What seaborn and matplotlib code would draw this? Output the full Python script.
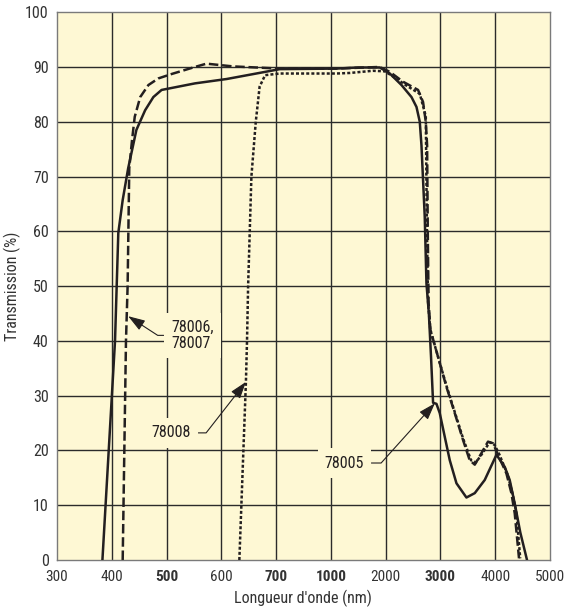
import numpy as np
import matplotlib
matplotlib.use('Agg')
import matplotlib.pyplot as plt
import seaborn as sns

# axe des x non linéaire : graduations équidistantes
x_ticks = [300, 400, 500, 600, 700, 1000, 2000, 3000, 4000, 5000]
y_ticks = [0, 10, 20, 30, 40, 50, 60, 70, 80, 90, 100]
bold_ticks = [500, 700, 1000, 3000]

# 78005 (trait plein)
wl_78005 = [383, 406, 412, 420, 430, 445, 461, 476, 491, 552, 610, 721, 1104,
            1500, 1894, 2077, 2290, 2473, 2564, 2624, 2655, 2715, 2746, 2790,
            2830, 2867, 2929, 2989, 3080, 3172, 3294, 3476, 3628, 3810, 4024,
            4175, 4266, 4358, 4460, 4582]
tr_78005 = [0, 40, 59.7, 65.7, 71.5, 78.5, 82.1, 84.5, 85.8, 87, 87.8, 89.6, 89.7,
            89.9, 89.9, 88.8, 86.7, 84.5, 82.7, 80, 75.7, 62.6, 50.5, 45,
            37, 28.7, 28.5, 26.8, 22.5, 18.2, 14, 11.4, 12.2, 14.6, 19.2,
            17, 14.6, 10.3, 5, 0]

# 78006, 78007 (tirets)
wl_78006 = [420, 426, 429, 432, 437, 442, 452, 467, 485, 509, 552, 573, 621, 721,
            1104, 1894, 2077, 2319, 2593, 2684, 2734, 2758, 2770, 2785, 2819,
            3111, 3263, 3414, 3536, 3628, 3750, 3870, 3962, 4053, 4206, 4297,
            4358, 4436]
tr_78006 = [0, 40, 50, 71.5, 76.6, 80.9, 84.5, 86.7, 87.9, 88.7, 90, 90.6, 90.1, 89.7,
            89.7, 90, 89.1, 87.3, 85.8, 83.6, 80, 75.7, 60, 47, 42,
            31.6, 26.8, 21.9, 18.2, 17.4, 19.5, 21.6, 21.3, 19.2, 15.8, 12.2,
            8.5, 0.3]

# 78008 (pointillés)
wl_78008 = [633, 645, 647, 649, 655, 663, 670, 680, 721, 1104, 1347, 1766, 1985,
            2131, 2381, 2624, 2734, 2755, 2776, 2816, 3111, 3263, 3414, 3560,
            3650, 3770, 3900, 3990, 4080, 4230, 4320, 4390, 4458]
tr_78008 = [0, 32.5, 40, 50, 70, 80, 86.4, 88.5, 88.8, 88.8, 88.9, 89.3, 89.2,
            88.3, 86.6, 85.1, 81, 60, 47, 42, 31.8, 27, 22.2, 18.2,
            17.8, 19.5, 21.5, 21, 19.2, 15.5, 12, 8.5, 0.3]

bg = '#fef8d4'
ink = '#231f20'

sns.set_theme(style='white')
plt.rcParams['font.family'] = ['Roboto Condensed', 'PT Sans Narrow', 'Archivo Narrow',
                               'Liberation Sans Narrow', 'Roboto', 'DejaVu Sans']

fig = plt.figure(figsize=(5.64, 6.08), dpi=100)
ax = fig.add_axes([0.101, 0.079, 0.874, 0.901])
ax.set_facecolor(bg)

idx = np.arange(len(x_ticks))
fwd = lambda v: np.interp(v, x_ticks, idx)
inv = lambda v: np.interp(v, idx, x_ticks)
ax.set_xscale('function', functions=(fwd, inv))

for x in x_ticks[1:-1]:
    ax.axvline(x, color='#2b2b2b', lw=1.0, zorder=0.5)
for y in y_ticks[1:-1]:
    ax.axhline(y, color='#2b2b2b', lw=1.0, zorder=0.5)

sns.lineplot(x=wl_78005, y=tr_78005, ax=ax, color=ink, lw=1.8, sort=False,
             estimator=None, zorder=3)
sns.lineplot(x=wl_78006, y=tr_78006, ax=ax, color=ink, lw=1.8, sort=False,
             estimator=None, zorder=3).lines[-1].set_dashes([3.8, 1.5])
sns.lineplot(x=wl_78008, y=tr_78008, ax=ax, color=ink, lw=1.8, sort=False,
             estimator=None, zorder=3).lines[-1].set_dashes([1.2, 0.85])

ax.set_xlim(300, 5000)
ax.set_ylim(0, 100)
ax.set_xticks(x_ticks)
ax.set_xticklabels([str(t) for t in x_ticks])
for lab, t in zip(ax.get_xticklabels(), x_ticks):
    if t in bold_ticks:
        lab.set_fontweight('bold')
ax.set_yticks(y_ticks)
ax.tick_params(length=0, labelsize=11.5, labelcolor='#333333', pad=6)
ax.tick_params(axis='x', pad=7, labelsize=11)
ax.set_xlabel("Longueur d'onde (nm)", fontsize=11.5, color='#333333', labelpad=4)
ax.set_ylabel('Transmission (%)', fontsize=11.5, color='#333333')
ax.yaxis.set_label_coords(-0.072, 0.5)
for s in ax.spines.values():
    s.set_color('#7a7a7a')
    s.set_linewidth(1.0)

box = dict(boxstyle='square,pad=0.45', fc=bg, ec='none')
arrow = dict(arrowstyle='-|>,head_length=0.9,head_width=0.3', color=ink, lw=0.8,
             shrinkA=0, shrinkB=0)

ax.annotate('78006,\n78007', xy=(430, 44.5), xytext=(508, 41), ha='left',
            va='center', fontsize=11.5, color=ink, bbox=box, zorder=4,
            linespacing=1.05,
            arrowprops=dict(arrow, connectionstyle='angle,angleA=0,angleB=-33,rad=0'))
ax.annotate('78008', xy=(645, 32.5), xytext=(473, 23.2), ha='left', va='center',
            fontsize=11.5, color=ink, bbox=box, zorder=4,
            arrowprops=dict(arrow, connectionstyle='angle,angleA=0,angleB=52,rad=0'))
ax.annotate('78005', xy=(2900, 28.6), xytext=(967, 17.7), ha='left', va='center',
            fontsize=11.5, color=ink, bbox=box, zorder=4,
            arrowprops=dict(arrow, connectionstyle='angle,angleA=0,angleB=48,rad=0'))

fig.savefig('out.png', dpi=100, facecolor='white')
